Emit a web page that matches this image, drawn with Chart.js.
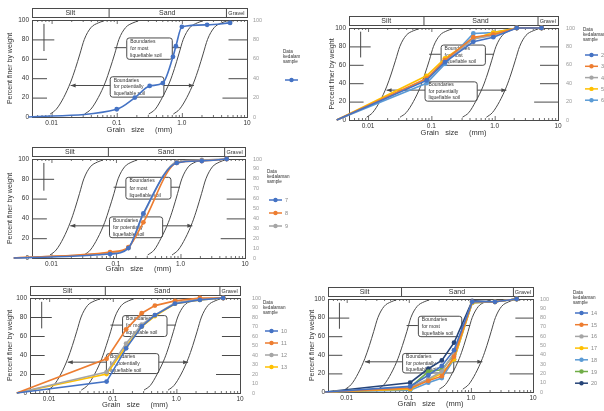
<!DOCTYPE html>
<html><head><meta charset="utf-8">
<script src="https://cdn.jsdelivr.net/npm/chart.js@4.4.0/dist/chart.umd.min.js"></script>
<style>
html,body{margin:0;padding:0;background:#fff;width:604px;height:411px;overflow:hidden;position:relative}
canvas{position:absolute}
</style></head><body>
<canvas id="c1"></canvas><canvas id="c2"></canvas><canvas id="c3"></canvas><canvas id="c4"></canvas><canvas id="c5"></canvas>
<script>
// ---------- axis ----------
const xMin = 0.005, xMax = 10;
const tickValues = [0.01, 0.1, 1, 10];
const tickLabels = ['0.01', '0.1', '1.0', '10'];
const soilNames = ['Silt', 'Sand', 'Gravel'];
const soilLimits = [0.075, 4.75];          // Silt|Sand, Sand|Gravel (mm)

// ---------- boundary curves (percent finer vs grain size, mm) ----------
const boundaryPct = [3, 8, 20, 36, 50, 65, 80, 92, 97, 99];
const boundaryA = [0.0095, 0.0118, 0.0153, 0.0196, 0.0232, 0.0272, 0.0318, 0.040, 0.052, 0.063];
const boundaryB = [0.032, 0.040, 0.052, 0.067, 0.079, 0.093, 0.108, 0.136, 0.177, 0.214];
const boundaryC = [0.31, 0.39, 0.50, 0.65, 0.77, 0.90, 1.05, 1.32, 1.72, 2.08];
const boundaryD = [0.74, 0.92, 1.19, 1.53, 1.81, 2.12, 2.48, 3.12, 4.06, 4.9];

// ---------- panel 1 ----------
const sizes1  = [0.0044, 0.10, 0.19, 0.32, 0.51, 0.73, 0.81, 1.0, 2.44, 5.5];
const sample1 = [0, 8, 20, 32, 35, 62, 73, 93, 95, 97];

// ---------- panel 2 ----------
const sizes2  = [0.0032, 0.084, 0.164, 0.46, 0.95, 2.23, 5.5];
const sample2 = [0, 43, 63, 85, 90, 100, 100];
const sample3 = [0, 45, 65, 90, 93, 100, 100];
const sample4 = [0, 44, 64, 88, 92, 100, 100];
const sample5 = [0, 48, 67, 88, 95, 100, 100];
const sample6 = [0, 40, 61, 94, 95, 100, 100];

// ---------- panel 3 ----------
const sizes3  = [0.0026, 0.081, 0.156, 0.266, 0.875, 2.14, 5.2];
const sample7 = [0, 4, 10, 45, 96, 98, 100];
const sample8 = [0, 6, 11, 36, 96, 98, 100];
const sample9 = [0, 5, 10, 44, 97, 99, 100];

// ---------- panel 4 ----------
const sizes4   = [0.0031, 0.080, 0.162, 0.285, 0.46, 0.95, 2.34, 5.45];
const sample10 = [0, 12, 47, 70, 82, 94, 98, 100];
const sample11 = [0, 36, 67, 84, 92, 97, 100, 100];
const sample12 = [0, 22, 52, 72, 82, 95, 99, 100];
const sample13 = [0, 20, 49, 70, 81, 94, 98, 100];

// ---------- panel 5 ----------
const sizes5   = [0.0045, 0.105, 0.206, 0.34, 0.535, 1.05, 2.44, 5.46];
const sample14 = [0, 6, 18, 28, 45, 97, 97, 100];
const sample15 = [0, 4, 12, 17, 38, 97, 97, 100];
const sample16 = [0, 5, 14, 22, 42, 97, 97, 100];
const sample17 = [0, 3, 13, 20, 35, 96, 97, 100];
const sample18 = [0, 2, 10, 15, 35, 96, 97, 100];
const sample19 = [0, 5, 22, 24, 40, 96, 97, 100];
const sample20 = [0, 10, 25, 34, 53, 98, 97, 100];

// ---------- styles / layout ----------
const C = {blue:'#4472C4', orange:'#ED7D31', gray:'#A5A5A5', yellow:'#FFC000', lblue:'#5B9BD5', green:'#70AD47', dblue:'#264478'};
const INK = '#4a4a4a';
const FONT = 'Liberation Sans, Arial, sans-serif';

const panels = [
  {id:'c1', canvas:[0,0,300,137], frame:[32,20,247,117], padL:6, xH:17, rStep:20, rPad:6, smooth:true,
   legend:{x:283, y:52, itemY:80, gap:12},
   series:[{label:'1', x:sizes1, y:sample1, color:C.blue}]},
  {id:'c2', canvas:[302,0,604,139], frame:[349,28,558,120], padL:26, xH:17, rStep:20, rPad:8, smooth:false,
   legend:{x:583, y:30, itemY:55, gap:11.3},
   series:[{label:'2', x:sizes2, y:sample2, color:C.blue},{label:'3', x:sizes2, y:sample3, color:C.orange},
           {label:'4', x:sizes2, y:sample4, color:C.gray},{label:'5', x:sizes2, y:sample5, color:C.yellow},
           {label:'6', x:sizes2, y:sample6, color:C.lblue}]},
  {id:'c3', canvas:[0,138,300,274], frame:[32,159,245,258], padL:6, xH:15, rStep:10, rPad:8, smooth:true,
   legend:{x:267, y:172, itemY:200, gap:13},
   series:[{label:'7', x:sizes3, y:sample7, color:C.blue},{label:'8', x:sizes3, y:sample8, color:C.orange},
           {label:'9', x:sizes3, y:sample9, color:C.gray}]},
  {id:'c4', canvas:[0,274,300,411], frame:[30,298,240,393], padL:6, xH:16, rStep:10, rPad:12, smooth:false,
   legend:{x:263, y:303, itemY:331, gap:12},
   series:[{label:'10', x:sizes4, y:sample10, color:C.blue},{label:'11', x:sizes4, y:sample11, color:C.orange},
           {label:'12', x:sizes4, y:sample12, color:C.gray},{label:'13', x:sizes4, y:sample13, color:C.yellow}]},
  {id:'c5', canvas:[302,274,604,411], frame:[328,299,533,392], padL:6, xH:16, rStep:10, rPad:7, smooth:false,
   legend:{x:573, y:293, itemY:313, gap:11.7},
   series:[{label:'14', x:sizes5, y:sample14, color:C.blue},{label:'15', x:sizes5, y:sample15, color:C.orange},
           {label:'16', x:sizes5, y:sample16, color:C.gray},{label:'17', x:sizes5, y:sample17, color:C.yellow},
           {label:'18', x:sizes5, y:sample18, color:C.lblue},{label:'19', x:sizes5, y:sample19, color:C.green},
           {label:'20', x:sizes5, y:sample20, color:C.dblue}]}
];

// annotation anchors in data units (grain size mm, percent)
const boxMost = {x0:0.14, x1:0.70, y0:60, y1:82, lines:['Boundaries','for most','liquefiable soil']};
const boxPot  = {x0:0.078, x1:0.52, y0:21, y1:42, lines:['Boundaries','for potentially','liquefiable soil']};

function bgPlugin(p){
  return {
    id:'bg',
    beforeDatasetsDraw(chart){
      const ctx = chart.ctx, a = chart.chartArea, X = chart.scales.x, Y = chart.scales.y;
      const fx = v => X.getPixelForValue(v), fy = v => Y.getPixelForValue(v);
      ctx.save();
      ctx.strokeStyle = INK; ctx.lineWidth = 1; ctx.fillStyle = '#fff';
      // frame
      ctx.strokeRect(a.left+0.5, a.top+0.5, a.right-a.left, a.bottom-a.top);
      // header bar
      const hT = a.top-12, hB = a.top-3;
      ctx.strokeRect(a.left+0.5, hT+0.5, a.right-a.left, hB-hT);
      const d1 = fx(soilLimits[0]), d2 = fx(soilLimits[1]);
      ctx.beginPath(); ctx.moveTo(d1+0.5,hT); ctx.lineTo(d1+0.5,hB); ctx.moveTo(d2+0.5,hT); ctx.lineTo(d2+0.5,hB); ctx.stroke();
      ctx.fillStyle = '#333'; ctx.textAlign='center'; ctx.textBaseline='middle';
      ctx.font = '7px '+FONT;
      ctx.fillText(soilNames[0], (a.left+d1)/2, (hT+hB)/2+0.5);
      ctx.fillText(soilNames[1], (d1+d2)/2, (hT+hB)/2+0.5);
      ctx.font = '5.5px '+FONT;
      ctx.fillText(soilNames[2], (d2+a.right)/2, (hT+hB)/2+0.5);
      // minor ticks along top & bottom
      ctx.lineWidth = 0.8;
      ctx.beginPath();
      for (let e=-3; e<1; e++) for (let m=1; m<10; m++){
        const v = m*Math.pow(10,e); if (v<=xMin||v>=xMax) continue;
        const x = fx(v)+0.5, L = (m===1)?4:2;
        ctx.moveTo(x,a.top); ctx.lineTo(x,a.top+L);
        ctx.moveTo(x,a.bottom); ctx.lineTo(x,a.bottom-L);
      }
      ctx.stroke();
      // short reference lines left & right
      ctx.lineWidth = 1;
      ctx.beginPath();
      [20,40,60,80].forEach(v=>{
        ctx.moveTo(a.left, fy(v)+0.5); ctx.lineTo(fx(v===80?0.011:0.0085), fy(v)+0.5);
        ctx.moveTo(fx(v===20?4.2:5.2), fy(v)+0.5); ctx.lineTo(a.right, fy(v)+0.5);
      });
      ctx.moveTo(fx(0.0075)+0.5, fy(96)); ctx.lineTo(fx(0.0075)+0.5, fy(68));
      ctx.stroke();
      // arrow line
      const ay = fy(33)+0.5, axL = fx(0.0196), axR = fx(1.53);
      ctx.beginPath(); ctx.moveTo(axL, ay); ctx.lineTo(axR, ay); ctx.stroke();
      ctx.fillStyle = INK;
      ctx.beginPath(); ctx.moveTo(axL,ay); ctx.lineTo(axL+5,ay-2); ctx.lineTo(axL+5,ay+2); ctx.closePath(); ctx.fill();
      ctx.beginPath(); ctx.moveTo(axR,ay); ctx.lineTo(axR-5,ay-2); ctx.lineTo(axR-5,ay+2); ctx.closePath(); ctx.fill();
      // connectors of the upper box
      const cy = fy(72)+0.5;
      ctx.beginPath(); ctx.moveTo(fx(0.092), cy); ctx.lineTo(fx(boxMost.x0), cy);
      ctx.moveTo(fx(boxMost.x1), cy); ctx.lineTo(fx(0.97), cy); ctx.stroke();
      // boxes
      [boxMost, boxPot].forEach(b=>{
        const x0 = fx(b.x0), x1 = fx(b.x1), y0 = fy(b.y1), y1 = fy(b.y0);
        ctx.beginPath();
        ctx.roundRect(x0+0.5, y0+0.5, x1-x0, y1-y0, 2.5);
        ctx.fillStyle = '#fff'; ctx.fill(); ctx.strokeStyle = INK; ctx.stroke();
        ctx.fillStyle = '#333'; ctx.textAlign='left'; ctx.textBaseline='middle';
        ctx.font = '5px '+FONT;
        const h = (y1-y0)/3;
        b.lines.forEach((t,i)=>ctx.fillText(t, x0+4, y0+h*(i+0.5)+0.5));
      });
      ctx.restore();
    },
    afterDraw(chart){
      const ctx = chart.ctx, L = p.legend, ox = p.canvas[0], oy = p.canvas[1];
      ctx.save();
      ctx.fillStyle = '#333'; ctx.textAlign='left'; ctx.textBaseline='middle';
      ctx.font = '4.6px '+FONT;
      ['Data','kedalaman','sample'].forEach((t,i)=>ctx.fillText(t, L.x-ox, L.y-oy+i*5));
      chart.data.datasets.forEach((ds,i)=>{
        if (ds.isBoundary) return;
        const y = L.itemY - oy + i*L.gap, x = L.x - ox + 2;
        ctx.strokeStyle = ds.borderColor; ctx.lineWidth = 1.5;
        ctx.beginPath(); ctx.moveTo(x, y); ctx.lineTo(x+13, y); ctx.stroke();
        ctx.fillStyle = ds.borderColor;
        ctx.beginPath(); ctx.arc(x+6.5, y, 2.2, 0, Math.PI*2); ctx.fill();
        ctx.fillStyle = '#888'; ctx.font = '5.5px '+FONT;
        ctx.fillText(ds.label, x+16, y+0.5);
      });
      ctx.restore();
    }
  };
}

function makeChart(p){
  const [cl, ct, cr, cb] = p.canvas, [l, t, r, b] = p.frame;
  const cv = document.getElementById(p.id);
  cv.width = cr-cl; cv.height = cb-ct;
  cv.style.left = cl+'px'; cv.style.top = ct+'px';
  const yW = l-cl-p.padL, y2W = 22;
  const datasets = p.series.map(s=>({
    label:s.label, data:s.x.map((d,i)=>({x:d, y:s.y[i]})),
    borderColor:s.color, backgroundColor:s.color, borderWidth:1.6,
    pointRadius:2.4, pointBorderWidth:0, pointHoverRadius:0, clip:false,
    cubicInterpolationMode: p.smooth ? 'monotone' : 'default', tension:0
  }));
  [boundaryA, boundaryB, boundaryC, boundaryD].forEach(bd=>datasets.push({
    label:'', isBoundary:true, data:boundaryPct.map((v,i)=>({x:bd[i], y:v})),
    borderColor:INK, borderWidth:1, pointRadius:0, cubicInterpolationMode:'monotone', clip:false
  }));
  const noGrid = {display:false, drawTicks:false, tickLength:0};
  new Chart(cv, {
    type:'line',
    data:{datasets},
    options:{
      responsive:false, animation:false, events:[], devicePixelRatio:1,
      layout:{padding:{left:p.padL, top:t-ct, right:cr-r-y2W, bottom:cb-b-p.xH}},
      plugins:{legend:{display:false}, tooltip:{enabled:false}},
      scales:{
        x:{type:'logarithmic', min:xMin, max:xMax,
           afterBuildTicks:s=>{ s.ticks = tickValues.map(v=>({value:v})); },
           afterFit:s=>{ s.height = p.xH; },
           ticks:{autoSkip:false, maxRotation:0, padding:2, color:'#333', font:{size:6.5, family:FONT},
                  callback:v=>tickLabels[tickValues.indexOf(v)]},
           grid:noGrid, border:{display:false},
           title:{display:true, text:'Grain   size     (mm)', color:'#333', padding:0, font:{size:7.5, family:FONT}}},
        y:{type:'linear', position:'left', min:0, max:100,
           afterFit:s=>{ s.width = yW; },
           ticks:{stepSize:20, autoSkip:false, padding:3, color:'#333', font:{size:6.5, family:FONT}},
           grid:noGrid, border:{display:false},
           title:{display:true, text:'Percent finer by weight', color:'#333', padding:0, font:{size:7, family:FONT}}},
        y2:{type:'linear', position:'right', min:0, max:100,
           afterFit:s=>{ s.width = y2W; },
           ticks:{stepSize:p.rStep, autoSkip:false, padding:p.rPad, color:'#999', font:{size:5.5, family:FONT}},
           grid:noGrid, border:{display:false}}
      }
    },
    plugins:[bgPlugin(p)]
  });
}
panels.forEach(makeChart);
</script>
</body></html>
